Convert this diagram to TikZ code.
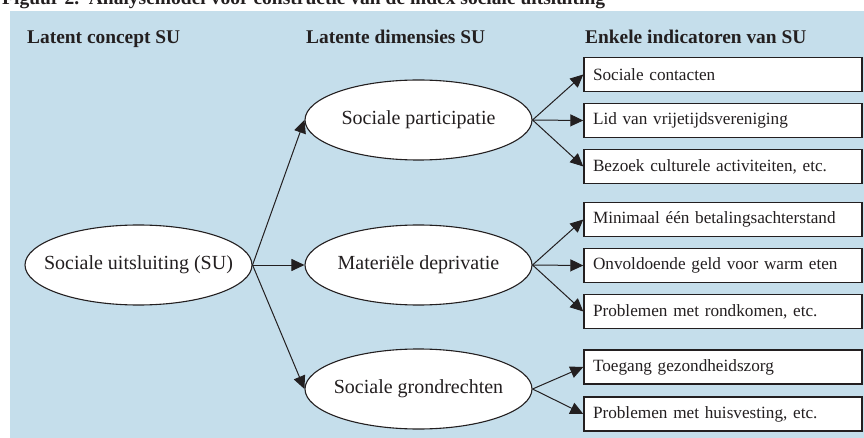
\documentclass[tikz,border=0pt]{standalone}
\usepackage{fontspec}
\setmainfont{Liberation Serif}
\usetikzlibrary{shapes.geometric,arrows.meta}
\definecolor{bgblue}{RGB}{197,222,235}
\definecolor{ink}{RGB}{35,31,32}
\newcommand{\zw}[1]{\makebox[0pt]{#1}}
\tikzset{
  hdr/.style={anchor=base west,inner sep=0pt,font=\fontsize{19.4}{22}\selectfont\bfseries,text=ink},
  ell/.style={ellipse,draw=ink,line width=1.1pt,fill=white,minimum width=227pt,minimum height=80pt,inner sep=0pt,font=\fontsize{20}{22}\selectfont,text=ink},
  ind/.style={rectangle,draw=ink,line width=1.4pt,fill=white,minimum width=278pt,minimum height=34pt,text width=260pt,inner xsep=9pt,inner ysep=0pt,align=left,font=\fontsize{17.2}{19}\selectfont,text=ink},
  arr/.style={draw=ink,line width=1pt,-{Triangle[length=13pt,width=12pt]}}
}
\begin{document}
\begin{tikzpicture}[x=1pt,y=-1pt]
\useasboundingbox (0,0) rectangle (864,438);
\fill[bgblue] (10,11) rectangle (864,438);
\node[anchor=base west,inner sep=0pt,font=\fontsize{19.5}{22}\selectfont\bfseries,text=ink] (title) at (2,5) {Figuur 2.\ \ Analysemodel voor constructie van de index sociale uitsluiting};
\node[hdr] (h1) at (27,44) {Latent concept SU};
\node[hdr] (h2) at (306,44) {Latente dimensies SU};
\node[hdr] (h3) at (585,44) {Enkele indicatoren van SU};

\node[ell] (su) at (138.5,265) {\zw{Sociale uitsluiting (SU)}};
\node[ell] (sp) at (418.5,120) {\zw{Sociale participatie}};
\node[ell] (md) at (418.5,265) {\zw{Materiële deprivatie}};
\node[ell] (sg) at (418.5,389) {\zw{Sociale grondrechten}};

\node[ind] (b1) at (723,74.5) {Sociale contacten};
\node[ind] (b2) at (723,120.5) {Lid van vrijetijdsvereniging};
\node[ind] (b3) at (723,166.5) {Bezoek culturele activiteiten, etc.};
\node[ind] (b4) at (723,219.5) {Minimaal één betalingsachterstand};
\node[ind] (b5) at (723,265.5) {Onvoldoende geld voor warm eten};
\node[ind] (b6) at (723,311.5) {Problemen met rondkomen, etc.};
\node[ind] (b7) at (723,367) {Toegang gezondheidszorg};
\node[ind] (b8) at (723,414) {Problemen met huisvesting, etc.};

\draw[arr] (su.east) -- (sp.west);
\draw[arr] (su.east) -- (md.west);
\draw[arr] (su.east) -- (sg.west);
\draw[arr] (sp.east) -- (b1.west);
\draw[arr] (sp.east) -- (b2.west);
\draw[arr] (sp.east) -- (b3.west);
\draw[arr] (md.east) -- (b4.west);
\draw[arr] (md.east) -- (b5.west);
\draw[arr] (md.east) -- (b6.west);
\draw[arr] (sg.east) -- (b7.west);
\draw[arr] (sg.east) -- (b8.west);
\end{tikzpicture}
\end{document}
